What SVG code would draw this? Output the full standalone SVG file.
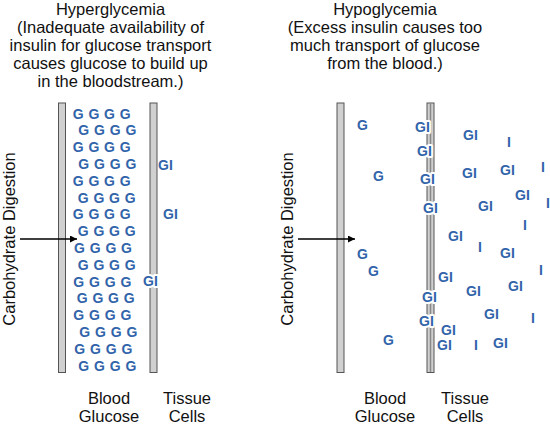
<svg xmlns="http://www.w3.org/2000/svg" width="550" height="427" viewBox="0 0 550 427">
<defs>
<style>
.t{font-family:"Liberation Sans",Arial,sans-serif;font-size:16.5px;fill:#111;text-anchor:middle}
.g{font-family:"Liberation Sans",Arial,sans-serif;font-size:14px;font-weight:bold;fill:#3164aa}
.ov{stroke:#fff;stroke-width:4;paint-order:stroke;stroke-linejoin:round}
.bar{fill:#d0d0d0;stroke:#555;stroke-width:1}
.ln{stroke:#000;stroke-width:1.3;fill:none}
</style>
<marker id="ah" viewBox="0 0 10 10" refX="10" refY="5" markerWidth="8" markerHeight="7" markerUnits="userSpaceOnUse" orient="auto">
<path d="M0,0 L10,5 L0,10 z" fill="#000"/>
</marker>
</defs>
<rect width="550" height="427" fill="#fff"/>

<g id="title-hyper">
<text class="t" x="110.5" y="15">Hyperglycemia</text>
<text class="t" x="110.5" y="32.5">(Inadequate availability of</text>
<text class="t" x="110.5" y="50.5">insulin for glucose transport</text>
<text class="t" x="110.5" y="68.5">causes glucose to build up</text>
<text class="t" x="110.5" y="86.7">in the bloodstream.)</text>
</g>
<g id="title-hypo">
<text class="t" x="385" y="15">Hypoglycemia</text>
<text class="t" x="385" y="32.5">(Excess insulin causes too</text>
<text class="t" x="385" y="50.5">much transport of glucose</text>
<text class="t" x="385" y="68.5">from the blood.)</text>
</g>

<g id="barriers">
<rect class="bar" x="58.5" y="103" width="7" height="269.5"/>
<rect class="bar" x="150" y="103" width="7" height="269.5"/>
<rect class="bar" x="337" y="103" width="7" height="269.5"/>
<rect class="bar" x="427" y="103" width="7" height="269.5"/>
<line x1="430.5" y1="103.5" x2="430.5" y2="372" stroke="#888" stroke-width="1.5"/>
</g>

<g id="connectors">
<line class="ln" x1="20" y1="239" x2="77" y2="239" marker-end="url(#ah)"/>
<line class="ln" x1="298" y1="239" x2="355" y2="239" marker-end="url(#ah)"/>
</g>

<g id="label-carb-left"><text class="t" transform="translate(15,239) rotate(-90)">Carbohydrate Digestion</text></g>
<g id="label-carb-right"><text class="t" transform="translate(293,239) rotate(-90)">Carbohydrate Digestion</text></g>

<g id="blood-hyper">
<text class="g" x="72.7 88.4 104.1 119.8" y="118.5">GGGG</text>
<text class="g" x="78.3 94 109.7 125.4" y="135.3">GGGG</text>
<text class="g" x="72.7 88.4 104.1 119.8" y="152.1">GGGG</text>
<text class="g" x="78.3 94 109.7 125.4" y="168.9">GGGG</text>
<text class="g" x="72.7 88.4 104.1 119.8" y="185.7">GGGG</text>
<text class="g" x="77.7 93.4 109.1 124.8" y="202.5">GGGG</text>
<text class="g" x="72.7 88.4 104.1 119.8" y="219.3">GGGG</text>
<text class="g" x="77.7 93.4 109.1 124.8" y="236.1">GGGG</text>
<text class="g" x="74 89.7 105.4 121.1" y="252.9">GGGG</text>
<text class="g" x="77.7 93.4 109.1 124.8" y="269.7">GGGG</text>
<text class="g" x="73.3 89 104.7 120.4" y="286.5">GGGG</text>
<text class="g" x="76.7 92.4 108.1 123.8" y="303.3">GGGG</text>
<text class="g" x="73.3 89 104.7 120.4" y="320.1">GGGG</text>
<text class="g" x="79.3 95 110.7 126.4" y="336.9">GGGG</text>
<text class="g" x="74.3 90 105.7 121.4" y="353.7">GGGG</text>
<text class="g" x="78.3 94 109.7 125.4" y="370.5">GGGG</text>
</g>
<g id="tissue-hyper">
<text class="g" x="158" y="170">GI</text>
<text class="g" x="163" y="219">GI</text>
<text class="g ov" x="143" y="286">GI</text>
</g>

<g id="blood-hypo">
<text class="g" x="357" y="130">G</text>
<text class="g" x="373" y="181">G</text>
<text class="g" x="357" y="259">G</text>
<text class="g" x="368" y="276">G</text>
<text class="g" x="383" y="345">G</text>
</g>
<g id="membrane-hypo">
<text class="g ov" x="415" y="132">GI</text>
<text class="g ov" x="417" y="156">GI</text>
<text class="g ov" x="420" y="184">GI</text>
<text class="g ov" x="423" y="213">GI</text>
<text class="g ov" x="422" y="302">GI</text>
<text class="g ov" x="419" y="326">GI</text>
</g>
<g id="tissue-hypo">
<text class="g" x="463" y="140">GI</text>
<text class="g" x="462" y="178">GI</text>
<text class="g" x="500" y="175">GI</text>
<text class="g" x="515" y="200">GI</text>
<text class="g" x="478" y="211">GI</text>
<text class="g" x="448" y="241">GI</text>
<text class="g" x="500" y="258">GI</text>
<text class="g" x="438" y="282">GI</text>
<text class="g" x="508" y="291">GI</text>
<text class="g" x="466" y="296">GI</text>
<text class="g" x="484" y="319">GI</text>
<text class="g" x="441" y="335">GI</text>
<text class="g" x="437" y="350">GI</text>
<text class="g" x="493" y="348">GI</text>
<text class="g" x="507" y="147">I</text>
<text class="g" x="541" y="172">I</text>
<text class="g" x="546" y="208">I</text>
<text class="g" x="523" y="230">I</text>
<text class="g" x="478" y="252">I</text>
<text class="g" x="539" y="275">I</text>
<text class="g" x="531" y="323">I</text>
<text class="g" x="474" y="350">I</text>
</g>

<g id="label-blood-left"><text class="t" x="109" y="404">Blood</text><text class="t" x="109" y="422">Glucose</text></g>
<g id="label-tissue-left"><text class="t" x="187" y="404">Tissue</text><text class="t" x="187" y="422">Cells</text></g>
<g id="label-blood-right"><text class="t" x="385" y="404">Blood</text><text class="t" x="385" y="422">Glucose</text></g>
<g id="label-tissue-right"><text class="t" x="465" y="404">Tissue</text><text class="t" x="465" y="422">Cells</text></g>
</svg>
